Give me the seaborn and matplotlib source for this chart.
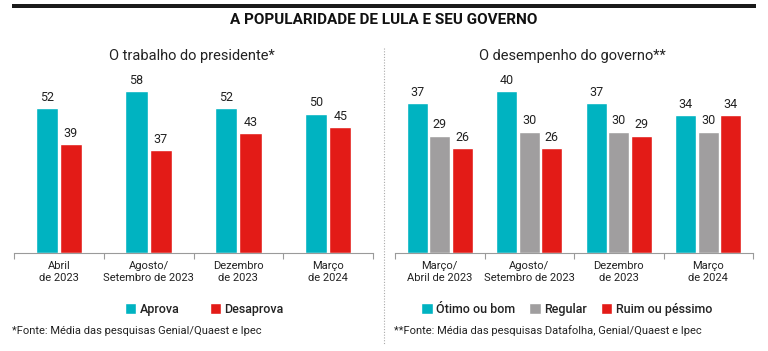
import pandas as pd
import numpy as np
import seaborn as sns
from matplotlib import pyplot as plt
from matplotlib.lines import Line2D
from matplotlib.patches import Rectangle

# Data
pres_periods = ["Abril\nde 2023", "Agosto/\nSetembro de 2023", "Dezembro\nde 2023", "Março\nde 2024"]
aprova = [52, 58, 52, 50]
desaprova = [39, 37, 43, 45]

gov_periods = ["Março/\nAbril de 2023", "Agosto/\nSetembro de 2023", "Dezembro\nde 2023", "Março\nde 2024"]
otimo_bom = [37, 40, 37, 34]
regular = [29, 30, 30, 30]
ruim_pessimo = [26, 26, 29, 34]

CYAN = "#00B3C1"
RED = "#E31B17"
GRAY = "#A09E9F"
TXT = "#222222"

pres_df = pd.DataFrame({
    "periodo": pres_periods * 2,
    "serie": ["Aprova"] * 4 + ["Desaprova"] * 4,
    "valor": aprova + desaprova,
})
gov_df = pd.DataFrame({
    "periodo": gov_periods * 3,
    "serie": ["Ótimo ou bom"] * 4 + ["Regular"] * 4 + ["Ruim ou péssimo"] * 4,
    "valor": otimo_bom + regular + ruim_pessimo,
})

sns.set_theme(style="white")
plt.rcParams['font.family'] = ['Roboto', 'DejaVu Sans']

fig = plt.figure(figsize=(7.68, 3.51), dpi=100)
W, H = 768, 351


def px_axes(x0, x1, y_top, y_base):
    return fig.add_axes([x0 / W, (H - y_base) / H, (x1 - x0) / W, (y_base - y_top) / H])


def style_axes(ax, top):
    ax.set_ylim(0, top)
    ax.set_xlim(-0.5, 3.5)
    ax.set_yticks([])
    ax.set_xlabel("")
    ax.set_ylabel("")
    for s in ["top", "right", "left"]:
        ax.spines[s].set_visible(False)
    ax.spines["bottom"].set_color("#9a9a9a")
    ax.spines["bottom"].set_linewidth(0.8)
    ax.set_xticks([-0.5, 0.5, 1.5, 2.5, 3.5], minor=True)
    ax.tick_params(axis="x", which="minor", length=4, color="#9a9a9a", width=0.8, bottom=True)
    ax.tick_params(axis="x", which="major", length=0, pad=6, labelsize=8, labelcolor=TXT)
    for lab in ax.get_xticklabels():
        lab.set_linespacing(1.15)
    for c in ax.containers:
        ax.bar_label(c, padding=3, fontsize=9, color=TXT)


# Left chart
ax1 = px_axes(14, 373, 70, 253)
sns.barplot(data=pres_df, x="periodo", y="valor", hue="serie",
            palette=[CYAN, RED], width=0.54, gap=0.08, ax=ax1, saturation=1)
style_axes(ax1, 183 / 2.79)
sns.move_legend(ax1, "upper center", bbox_to_anchor=(0.53, -0.21), ncol=2, frameon=False,
                title=None, fontsize=9, handlelength=0.9, handleheight=0.9,
                handletextpad=0.3, columnspacing=2.4)

# Right chart
ax2 = px_axes(395, 753, 70, 253)
sns.barplot(data=gov_df, x="periodo", y="valor", hue="serie",
            palette=[CYAN, GRAY, RED], width=0.76, gap=0.08, ax=ax2, saturation=1)
style_axes(ax2, 183 / 4.05)
sns.move_legend(ax2, "upper center", bbox_to_anchor=(0.48, -0.21), ncol=3, frameon=False,
                title=None, fontsize=9, handlelength=0.9, handleheight=0.9,
                handletextpad=0.3, columnspacing=1.1)
for ax in (ax1, ax2):
    for t in ax.get_legend().get_texts():
        t.set_fontweight("medium")
        t.set_color(TXT)

# Header
fig.add_artist(Rectangle((12 / W, 1 - 8 / H), 744 / W, 4 / H, transform=fig.transFigure,
                         facecolor="#1a1a1a", edgecolor="none"))
fig.text(0.5, 1 - 20 / H, "A POPULARIDADE DE LULA E SEU GOVERNO", ha="center", va="center",
         fontsize=11, fontweight="bold", color="#111111")
fig.text(192 / W, 1 - 56 / H, "O trabalho do presidente*", ha="center", va="center",
         fontsize=10.5, color=TXT)
fig.text(572 / W, 1 - 56 / H, "O desempenho do governo**", ha="center", va="center",
         fontsize=10.5, color=TXT)

# Divider
fig.add_artist(Line2D([384 / W, 384 / W], [1 - 48 / H, 1 - 345 / H], transform=fig.transFigure,
                      color="#aaaaaa", linewidth=0.8, linestyle=(0, (1, 1.5))))

# Footnotes
fig.text(12 / W, 1 - 331 / H, "*Fonte: Média das pesquisas Genial/Quaest e Ipec", ha="left",
         va="center", fontsize=8, color=TXT)
fig.text(394 / W, 1 - 331 / H, "**Fonte: Média das pesquisas Datafolha, Genial/Quaest e Ipec",
         ha="left", va="center", fontsize=8, color=TXT)

fig.savefig("out.png", dpi=100, facecolor="white")
